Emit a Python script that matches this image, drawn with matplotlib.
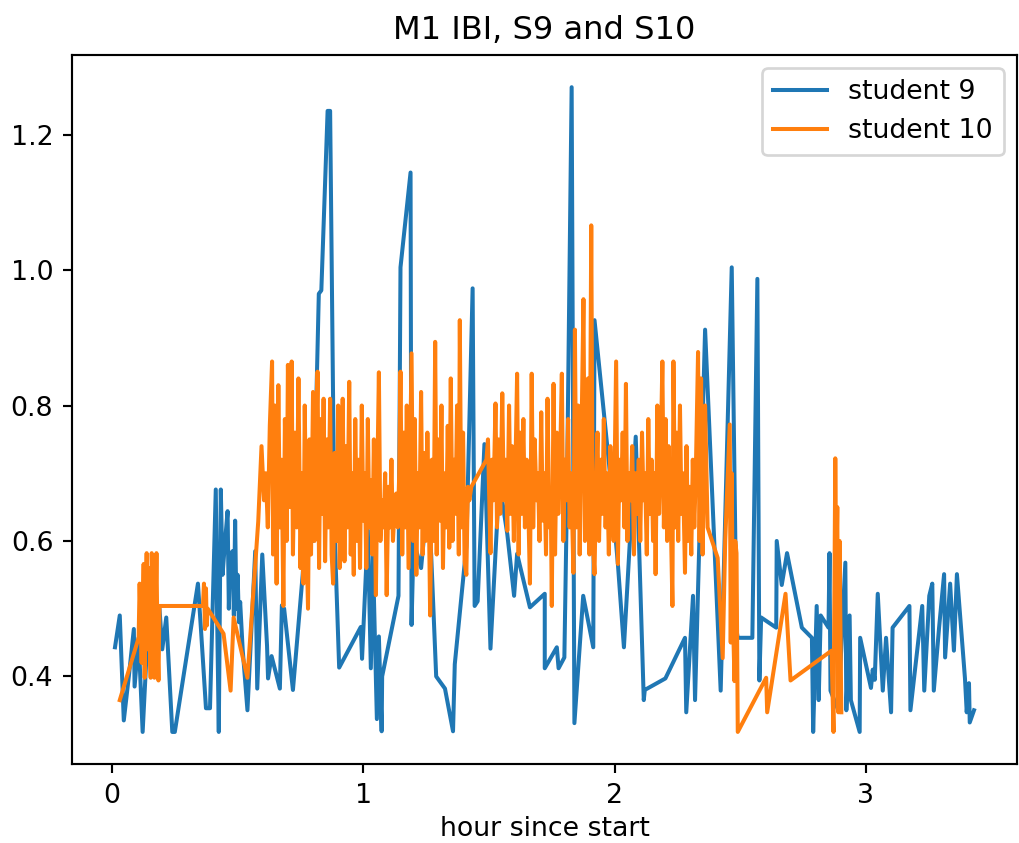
import matplotlib
matplotlib.use("Agg")
import matplotlib.pyplot as plt

# ---- student 9 (hour since start, IBI) ----
s9_early = [(0.012, 0.443), (0.031, 0.49), (0.047, 0.335), (0.067, 0.40), (0.087, 0.47),
            (0.09, 0.385), (0.106, 0.457), (0.122, 0.318), (0.145, 0.487), (0.16, 0.40),
            (0.175, 0.43), (0.189, 0.50), (0.20, 0.44), (0.216, 0.487), (0.24, 0.318),
            (0.25, 0.318), (0.342, 0.537), (0.354, 0.47), (0.374, 0.353), (0.39, 0.353),
            (0.413, 0.676), (0.418, 0.50), (0.425, 0.318), (0.433, 0.676), (0.44, 0.55),
            (0.45, 0.60), (0.46, 0.644), (0.465, 0.50), (0.47, 0.58), (0.48, 0.585),
            (0.485, 0.49), (0.49, 0.63), (0.495, 0.50), (0.50, 0.55), (0.505, 0.48),
            (0.51, 0.51), (0.52, 0.44), (0.539, 0.35), (0.57, 0.585), (0.578, 0.382),
            (0.598, 0.58), (0.617, 0.445), (0.621, 0.397), (0.635, 0.43), (0.668, 0.382),
            (0.676, 0.505), (0.685, 0.50), (0.72, 0.38), (0.759, 0.551), (0.78, 0.678),
            (0.80, 0.60)]
s9_middle = [(0.823, 0.965), (0.833, 0.97), (0.858, 1.235), (0.868, 1.235), (0.885, 0.62),
             (0.904, 0.413), (0.99, 0.473), (0.995, 0.426), (1.018, 0.616), (1.03, 0.412),
             (1.038, 0.581), (1.05, 0.394), (1.054, 0.337), (1.062, 0.459), (1.073, 0.319),
             (1.075, 0.40), (1.14, 0.519), (1.148, 1.004), (1.188, 1.144), (1.192, 0.476),
             (1.20, 0.60), (1.23, 0.56), (1.255, 0.66), (1.27, 0.58), (1.29, 0.40),
             (1.325, 0.382), (1.357, 0.319), (1.364, 0.418), (1.41, 0.592), (1.435, 0.973),
             (1.443, 0.504), (1.455, 0.511), (1.482, 0.743), (1.506, 0.441), (1.541, 0.688),
             (1.573, 0.61), (1.60, 0.519), (1.612, 0.581), (1.663, 0.502), (1.722, 0.522),
             (1.722, 0.412), (1.77, 0.443), (1.777, 0.412), (1.80, 0.428), (1.81, 0.66),
             (1.829, 1.27), (1.84, 0.331), (1.875, 0.519), (1.915, 0.443), (1.92, 0.926),
             (1.978, 0.713), (2.013, 0.566), (2.037, 0.443), (2.084, 0.754), (2.116, 0.365),
             (2.12, 0.38), (2.202, 0.397), (2.28, 0.457), (2.285, 0.347), (2.312, 0.519),
             (2.32, 0.365), (2.36, 0.912), (2.422, 0.379), (2.466, 1.004), (2.485, 0.468),
             (2.49, 0.457)]
s9_late = [(2.548, 0.457), (2.568, 0.987), (2.576, 0.394), (2.583, 0.487), (2.643, 0.472),
           (2.645, 0.60), (2.665, 0.535), (2.686, 0.582), (2.745, 0.472), (2.785, 0.457),
           (2.79, 0.318), (2.804, 0.504), (2.812, 0.365), (2.82, 0.49), (2.851, 0.472),
           (2.855, 0.582), (2.859, 0.379), (2.89, 0.35), (2.918, 0.568), (2.922, 0.35),
           (2.935, 0.49), (2.94, 0.365), (2.975, 0.318), (2.977, 0.457), (3.02, 0.383),
           (3.027, 0.41), (3.035, 0.395), (3.047, 0.522), (3.067, 0.379), (3.08, 0.457),
           (3.10, 0.347), (3.106, 0.472), (3.173, 0.504), (3.177, 0.35), (3.224, 0.504),
           (3.232, 0.379), (3.252, 0.519), (3.264, 0.537), (3.27, 0.379), (3.291, 0.472),
           (3.311, 0.551), (3.315, 0.428), (3.335, 0.537), (3.35, 0.438), (3.362, 0.551),
           (3.394, 0.397), (3.401, 0.347), (3.41, 0.39), (3.413, 0.332), (3.43, 0.35)]

# ---- student 10 (hour since start, IBI) ----
s10_start = [(0.031, 0.365), (0.106, 0.457), (0.11, 0.537), (0.118, 0.42), (0.126, 0.566),
             (0.13, 0.398), (0.134, 0.50), (0.138, 0.582), (0.142, 0.44), (0.146, 0.56),
             (0.15, 0.45), (0.154, 0.398), (0.158, 0.582), (0.165, 0.50), (0.169, 0.398),
             (0.177, 0.582), (0.181, 0.45), (0.185, 0.394), (0.189, 0.504), (0.362, 0.504),
             (0.366, 0.537), (0.37, 0.47), (0.374, 0.53), (0.377, 0.475), (0.381, 0.50),
             (0.444, 0.463), (0.472, 0.379), (0.484, 0.487), (0.539, 0.398), (0.582, 0.629)]
s10_a = [(0.595, 0.74), (0.605, 0.66), (0.612, 0.70), (0.62, 0.62), (0.628, 0.77),
         (0.637, 0.865), (0.641, 0.58), (0.648, 0.80), (0.655, 0.537), (0.662, 0.83),
         (0.668, 0.62), (0.675, 0.72), (0.682, 0.504), (0.688, 0.78), (0.695, 0.60),
         (0.70, 0.86), (0.708, 0.65), (0.715, 0.865), (0.72, 0.58), (0.728, 0.76),
         (0.735, 0.62), (0.742, 0.84), (0.75, 0.56), (0.756, 0.70), (0.762, 0.537),
         (0.767, 0.80), (0.773, 0.62), (0.78, 0.50), (0.786, 0.75), (0.792, 0.58),
         (0.80, 0.82)]
s10_b = [(0.806, 0.60), (0.812, 0.72), (0.818, 0.85), (0.824, 0.56), (0.83, 0.78),
         (0.836, 0.64), (0.842, 0.81), (0.848, 0.57), (0.855, 0.75), (0.861, 0.62),
         (0.868, 0.81), (0.874, 0.58), (0.88, 0.537), (0.886, 0.73), (0.893, 0.60),
         (0.90, 0.80), (0.906, 0.56), (0.912, 0.68), (0.918, 0.81), (0.925, 0.57),
         (0.931, 0.74), (0.937, 0.62), (0.944, 0.835), (0.95, 0.58), (0.956, 0.70),
         (0.962, 0.55), (0.968, 0.78), (0.975, 0.60), (0.981, 0.72), (0.987, 0.56),
         (0.994, 0.80), (1.0, 0.63), (1.006, 0.70), (1.012, 0.56), (1.018, 0.78),
         (1.024, 0.62), (1.03, 0.69), (1.036, 0.58), (1.042, 0.75), (1.05, 0.52)]
s10_c = [(1.056, 0.70), (1.062, 0.849), (1.068, 0.60), (1.075, 0.66), (1.081, 0.62),
         (1.087, 0.70), (1.093, 0.52), (1.10, 0.68), (1.106, 0.62), (1.112, 0.72),
         (1.118, 0.60), (1.125, 0.65), (1.131, 0.67), (1.137, 0.62), (1.143, 0.70),
         (1.148, 0.85), (1.155, 0.58), (1.161, 0.76), (1.167, 0.62), (1.173, 0.80),
         (1.18, 0.56), (1.186, 0.72), (1.192, 0.877), (1.198, 0.60), (1.205, 0.78),
         (1.211, 0.55), (1.217, 0.70), (1.223, 0.62), (1.23, 0.82), (1.236, 0.58),
         (1.242, 0.73), (1.248, 0.60), (1.255, 0.76), (1.261, 0.64), (1.266, 0.49),
         (1.273, 0.72), (1.28, 0.60), (1.286, 0.894), (1.292, 0.58), (1.298, 0.75),
         (1.305, 0.63), (1.311, 0.80), (1.317, 0.56), (1.323, 0.70), (1.33, 0.62),
         (1.336, 0.77), (1.342, 0.59), (1.348, 0.84), (1.355, 0.60), (1.361, 0.72),
         (1.367, 0.64), (1.373, 0.80), (1.38, 0.58), (1.384, 0.926), (1.39, 0.62),
         (1.397, 0.76), (1.403, 0.57), (1.41, 0.55), (1.416, 0.68), (1.422, 0.66),
         (1.43, 0.68), (1.49, 0.72)]
s10_e = [(1.496, 0.75), (1.502, 0.65), (1.506, 0.582), (1.512, 0.72), (1.518, 0.66),
         (1.526, 0.803), (1.532, 0.62), (1.538, 0.75), (1.545, 0.64), (1.553, 0.818),
         (1.559, 0.66), (1.566, 0.72), (1.573, 0.615), (1.58, 0.80), (1.586, 0.64),
         (1.592, 0.74), (1.599, 0.60), (1.605, 0.70), (1.612, 0.847), (1.618, 0.58),
         (1.624, 0.76), (1.63, 0.64), (1.637, 0.78), (1.643, 0.62), (1.65, 0.72),
         (1.656, 0.66), (1.663, 0.537), (1.67, 0.847), (1.676, 0.62), (1.682, 0.75),
         (1.689, 0.66), (1.695, 0.70), (1.701, 0.60), (1.708, 0.79), (1.714, 0.63),
         (1.72, 0.70), (1.727, 0.58), (1.733, 0.81), (1.74, 0.62), (1.746, 0.66),
         (1.75, 0.504), (1.757, 0.832), (1.763, 0.58), (1.77, 0.76), (1.776, 0.64),
         (1.782, 0.70), (1.79, 0.847), (1.796, 0.60), (1.802, 0.72), (1.808, 0.66),
         (1.815, 0.78), (1.821, 0.62), (1.827, 0.70), (1.836, 0.553), (1.842, 0.912),
         (1.848, 0.62), (1.855, 0.80), (1.861, 0.58), (1.868, 0.75), (1.876, 0.957),
         (1.882, 0.60), (1.888, 0.70), (1.894, 0.84), (1.90, 0.58), (1.907, 1.066),
         (1.913, 0.60), (1.92, 0.551)]
s10_f = [(1.926, 0.68), (1.932, 0.76), (1.938, 0.60), (1.945, 0.72), (1.951, 0.64),
         (1.957, 0.78), (1.964, 0.62), (1.97, 0.70), (1.977, 0.58), (1.983, 0.74),
         (1.99, 0.66), (1.996, 0.60), (2.006, 0.865), (2.013, 0.566), (2.019, 0.72),
         (2.026, 0.66), (2.032, 0.76), (2.039, 0.62), (2.045, 0.832), (2.051, 0.60),
         (2.058, 0.70), (2.064, 0.66), (2.07, 0.74), (2.077, 0.58), (2.083, 0.70),
         (2.09, 0.64), (2.096, 0.72), (2.102, 0.60), (2.109, 0.76), (2.115, 0.66),
         (2.121, 0.70), (2.128, 0.58), (2.134, 0.78), (2.14, 0.64), (2.147, 0.72),
         (2.153, 0.60), (2.159, 0.70), (2.163, 0.551), (2.17, 0.80), (2.177, 0.64),
         (2.183, 0.72), (2.19, 0.865), (2.196, 0.62), (2.203, 0.78), (2.209, 0.60),
         (2.215, 0.74), (2.222, 0.66), (2.23, 0.504), (2.234, 0.865), (2.241, 0.62),
         (2.247, 0.76), (2.253, 0.60), (2.26, 0.80), (2.266, 0.64), (2.272, 0.70),
         (2.28, 0.553), (2.286, 0.74), (2.292, 0.60), (2.298, 0.68), (2.305, 0.58),
         (2.311, 0.72), (2.317, 0.62), (2.323, 0.70), (2.332, 0.879), (2.338, 0.60),
         (2.344, 0.84), (2.35, 0.58)]
s10_end = [(2.36, 0.80), (2.37, 0.62), (2.41, 0.575), (2.43, 0.427), (2.44, 0.60),
           (2.458, 0.772), (2.462, 0.45), (2.466, 0.70), (2.47, 0.50), (2.477, 0.393),
           (2.48, 0.60), (2.485, 0.582), (2.49, 0.318), (2.603, 0.398), (2.607, 0.347),
           (2.68, 0.522), (2.70, 0.394), (2.863, 0.438), (2.871, 0.318), (2.878, 0.722),
           (2.882, 0.55), (2.886, 0.65), (2.89, 0.347), (2.895, 0.60), (2.902, 0.347)]

series_labels = ["student 9", "student 10"]
title_text = "M1 IBI, S9 and S10"
x_label = "hour since start"
x_ticks = [0, 1, 2, 3]
y_ticks = [0.4, 0.6, 0.8, 1.0, 1.2]

s9 = s9_early + s9_middle + s9_late
s10 = s10_start + s10_a + s10_b + s10_c + s10_e + s10_f + s10_end

DPI = 193
fig = plt.figure(figsize=(1019 / DPI, 843 / DPI), dpi=DPI)
ax = fig.add_axes([0.0707, 0.0935, 0.9273, 0.8413])
ax.plot([p[0] for p in s9], [p[1] for p in s9], label=series_labels[0])
ax.plot([p[0] for p in s10], [p[1] for p in s10], label=series_labels[1])
ax.set_title(title_text)
ax.set_xlabel(x_label, labelpad=2.5)
ax.set_xticks(x_ticks)
ax.set_yticks(y_ticks)
ax.legend(loc="upper right")
fig.savefig("out.png", dpi=DPI)
